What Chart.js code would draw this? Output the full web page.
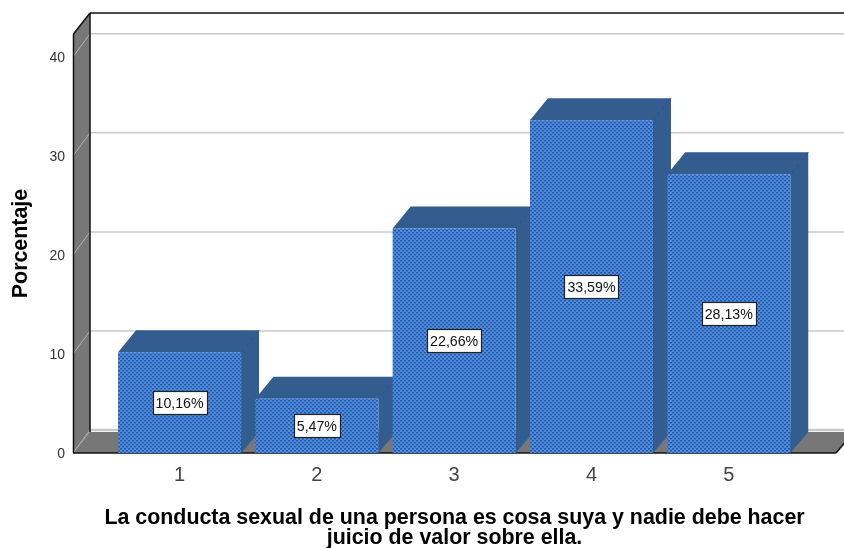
<!DOCTYPE html>
<html><head><meta charset="utf-8">
<style>html,body{margin:0;padding:0;background:#fff}#w{width:844px;height:548px}</style>
<script src="https://cdn.jsdelivr.net/npm/chart.js@4"></script>
</head><body><div id="w"><canvas id="c" width="844" height="548"></canvas></div>
<script>
const categories = [1, 2, 3, 4, 5];
const percentages = [10.16, 5.47, 22.66, 33.59, 28.13];
const valueLabels = ['10,16%', '5,47%', '22,66%', '33,59%', '28,13%'];
const yTicks = [0, 10, 20, 30, 40];
const yTitle = 'Porcentaje';
const xTitle = ['La conducta sexual de una persona es cosa suya y nadie debe hacer', 'juicio de valor sobre ella.'];

const DX = 18, DY = 22, WX = 17, WY = 21, FONT = '"Liberation Sans", Arial, sans-serif';

function pattern() {
  const p = document.createElement('canvas'); p.width = 4; p.height = 4;
  const g = p.getContext('2d');
  g.fillStyle = '#4c8ce4'; g.fillRect(0, 0, 4, 4);
  g.fillStyle = '#29589a';
  g.fillRect(0, 0, 2, 1); g.fillRect(2, 2, 2, 1);
  g.fillStyle = '#3a72bf';
  g.fillRect(0, 1, 2, 1); g.fillRect(2, 3, 2, 1);
  return g.createPattern(p, 'repeat');
}
function poly(ctx, pts, fill) {
  ctx.beginPath(); pts.forEach((q, i) => i ? ctx.lineTo(q[0], q[1]) : ctx.moveTo(q[0], q[1]));
  ctx.closePath(); ctx.fillStyle = fill; ctx.fill();
}
function line(ctx, a, b, col, w) {
  ctx.beginPath(); ctx.moveTo(a[0], a[1]); ctx.lineTo(b[0], b[1]);
  ctx.strokeStyle = col; ctx.lineWidth = w; ctx.stroke();
}
const frame3d = {
  id: 'frame3d',
  beforeDatasetsDraw(chart) {
    const ctx = chart.ctx, a = chart.chartArea, y = chart.scales.y;
    const L = a.left, B = a.bottom, T = a.top, R = a.right, E = R + 18;
    ctx.save();
    yTicks.forEach(v => {
      const p = y.getPixelForValue(v);
      line(ctx, [L + WX, p - 23], [E, p - 23], '#c9c9c9', v ? 1.5 : 2.5);
    });
    poly(ctx, [[L, B], [L + WX, B - WY], [E, B - WY], [R, B]], '#777777');
    poly(ctx, [[L, T], [L + WX, T - WY], [L + WX, B - WY], [L, B]], '#777777');
    yTicks.forEach(v => {
      const p = y.getPixelForValue(v);
      line(ctx, [L, p], [L + WX, p - 23], '#b5b5b5', 1);
    });
    line(ctx, [L + WX, T - WY], [E, T - WY], '#111', 1.5);
    line(ctx, [L + WX, T - WY], [L + WX, B - WY], '#111', 1.5);
    line(ctx, [L + .5, T], [L + WX, T - WY], '#111', 1.5);
    line(ctx, [L + .5, T], [L + .5, B], '#111', 1.5);
    line(ctx, [L, B], [R, B], '#111', 1.5);
    line(ctx, [R, B], [E, B - WY], '#111', 1.5);
    chart.getDatasetMeta(0).data.forEach(b => {
      const l = b.x - b.width / 2, r = b.x + b.width / 2, t = b.y;
      poly(ctx, [[l, t], [l + DX, t - DY], [r + DX, t - DY], [r, t]], '#335c8f');
      poly(ctx, [[r, t], [r + DX, t - DY], [r + DX, B - WY], [r, B]], '#335c8f');
      line(ctx, [r, t], [r + DX, t - DY], '#2b4f7e', 1);
    });
    ctx.restore();
  },
  afterDatasetsDraw(chart) {
    const ctx = chart.ctx, a = chart.chartArea;
    ctx.save();
    chart.getDatasetMeta(0).data.forEach((b, i) => {
      const cy = (b.y + a.bottom) / 2, txt = valueLabels[i];
      ctx.font = '14.2px ' + FONT;
      const w = Math.round(ctx.measureText(txt).width + 6), h = 23;
      const bx = Math.round(b.x - w / 2), by = Math.round(cy - h / 2);
      ctx.fillStyle = '#fff'; ctx.fillRect(bx, by, w, h);
      ctx.strokeStyle = '#222'; ctx.lineWidth = 1.2;
      ctx.strokeRect(bx + .5, by + .5, w, h);
      ctx.fillStyle = '#111'; ctx.textAlign = 'center'; ctx.textBaseline = 'middle';
      ctx.fillText(txt, b.x, cy + 1.5);
    });
    ctx.restore();
  }
};
new Chart(document.getElementById('c'), {
  type: 'bar',
  data: { datasets: [{
    data: categories.map((c, i) => ({ x: c, y: percentages[i] })),
    backgroundColor: pattern(), borderWidth: 0,
    barPercentage: 0.896, categoryPercentage: 1
  }] },
  plugins: [frame3d],
  options: {
    responsive: false, animation: false, devicePixelRatio: 1,
    layout: { padding: { top: 34, right: 8, left: 0, bottom: 0 } },
    plugins: { legend: { display: false }, tooltip: { enabled: false } },
    scales: {
      x: {
        type: 'linear', min: 0.224, max: 5.781, offset: false,
        grid: { display: false }, border: { display: false },
        afterBuildTicks: s => { s.ticks = categories.map(v => ({ value: v })); },
        afterFit: s => { s.height = 95; },
        ticks: { color: '#444', font: { family: FONT, size: 20 }, padding: 2, maxRotation: 0, autoSkip: false,
          callback: v => String(v) },
        title: { display: true, text: xTitle, color: '#000',
          font: { family: FONT, size: 21.4, weight: 'bold', lineHeight: 0.92 }, padding: { top: 20, bottom: 0 } }
      },
      y: {
        min: 0, max: 42.3,
        grid: { display: false }, border: { display: false },
        afterBuildTicks: s => { s.ticks = yTicks.map(v => ({ value: v })); },
        afterFit: s => { s.width = 73; },
        ticks: { color: '#333', font: { family: FONT, size: 14 }, padding: 0, labelOffset: 1.5 },
        title: { display: true, text: yTitle, color: '#000',
          font: { family: FONT, size: 21.4, weight: 'bold' }, padding: { top: 8, bottom: 0 } }
      }
    }
  }
});
</script></body></html>
